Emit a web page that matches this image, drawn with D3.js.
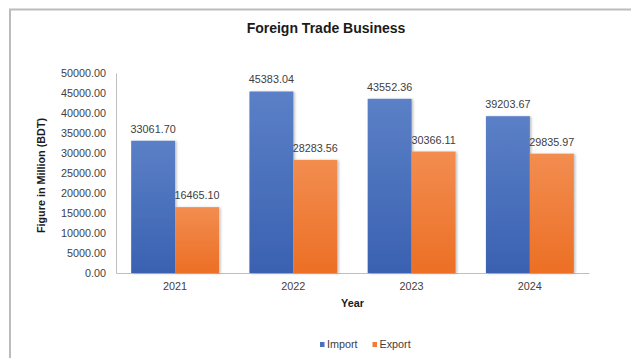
<!DOCTYPE html>
<html>
<head>
<meta charset="utf-8">
<script src="https://cdn.jsdelivr.net/npm/d3@7/dist/d3.min.js"></script>
<style>
  html, body { margin: 0; padding: 0; background: #fff; }
  svg { display: block; font-family: "Liberation Sans", Arial, sans-serif; }
</style>
</head>
<body>
<svg id="chart" width="631" height="358"></svg>
<script>
const years = ["2021", "2022", "2023", "2024"];
const seriesNames = ["Import", "Export"];
const importValues = [33061.70, 45383.04, 43552.36, 39203.67];
const exportValues = [16465.10, 28283.56, 30366.11, 29835.97];
const yTicks = [0, 5000, 10000, 15000, 20000, 25000, 30000, 35000, 40000, 45000, 50000];

const svg = d3.select("#chart");
const W = 631, H = 358;
const margin = { left: 116, right: 42, top: 73, bottom: 85 };
const plotW = W - margin.left - margin.right;
const plotH = H - margin.top - margin.bottom;

// outer frame of the chart area
svg.append("rect")
  .attr("x", 10).attr("y", 9.5)
  .attr("width", 800).attr("height", 500)
  .attr("fill", "none").attr("stroke", "#bcbcbc").attr("stroke-width", 2);

const defs = svg.append("defs");
const grads = [
  { id: "gImport", top: "#5b80c7", bottom: "#3a61b1" },
  { id: "gExport", top: "#f28d50", bottom: "#ec6f25" }
];
grads.forEach(g => {
  const lg = defs.append("linearGradient").attr("id", g.id)
    .attr("x1", 0).attr("y1", 0).attr("x2", 0).attr("y2", 1);
  lg.append("stop").attr("offset", "0%").attr("stop-color", g.top);
  lg.append("stop").attr("offset", "100%").attr("stop-color", g.bottom);
});
const shadow = defs.append("filter").attr("id", "barShadow")
  .attr("x", "-10%").attr("y", "-10%").attr("width", "130%").attr("height", "120%");
shadow.append("feDropShadow").attr("dx", 1.5).attr("dy", 0.5)
  .attr("stdDeviation", 1).attr("flood-color", "#000").attr("flood-opacity", 0.25);

const g = svg.append("g").attr("transform", `translate(${margin.left},${margin.top})`);

const x0 = d3.scaleBand().domain(years).range([0, plotW]).paddingInner(0).paddingOuter(0);
const x1 = d3.scaleBand().domain(seriesNames).range([0, x0.bandwidth()]).paddingInner(0).paddingOuter(0.345);
const y = d3.scaleLinear().domain([0, 50000]).range([plotH, 0]);

// y axis
const yAxis = d3.axisLeft(y).tickValues(yTicks).tickSize(0).tickPadding(10)
  .tickFormat(d => d3.format(".2f")(d));
const yg = g.append("g").call(yAxis);
yg.select(".domain").attr("stroke", "#bfbfbf");
yg.selectAll("text").attr("fill", "#404040").style("font-size", "10.8px");

// x axis
const xAxis = d3.axisBottom(x0).tickSize(0).tickPadding(9);
const xg = g.append("g").attr("transform", `translate(0,${plotH})`).call(xAxis);
xg.select(".domain").attr("stroke", "#bfbfbf");
xg.selectAll("text").attr("fill", "#404040").style("font-size", "10.8px");

const rows = years.map((yr, i) => ({
  year: yr,
  values: [
    { name: "Import", value: importValues[i], fill: "url(#gImport)" },
    { name: "Export", value: exportValues[i], fill: "url(#gExport)" }
  ]
}));

const groups = g.selectAll(".yr").data(rows).join("g")
  .attr("class", "yr")
  .attr("transform", d => `translate(${x0(d.year)},0)`);

groups.selectAll("rect").data(d => d.values).join("rect")
  .attr("x", d => x1(d.name))
  .attr("y", d => y(d.value))
  .attr("width", x1.bandwidth())
  .attr("height", d => plotH - y(d.value))
  .attr("fill", d => d.fill)
  .attr("filter", "url(#barShadow)");

groups.selectAll("text.lbl").data(d => d.values).join("text")
  .attr("class", "lbl")
  .attr("x", d => x1(d.name) + x1.bandwidth() / 2)
  .attr("y", d => y(d.value) - 8)
  .attr("text-anchor", "middle")
  .attr("fill", "#404040")
  .style("font-size", "10.8px")
  .text(d => d3.format(".2f")(d.value));

// titles
svg.append("text")
  .attr("x", 326).attr("y", 33)
  .attr("text-anchor", "middle")
  .attr("fill", "#1a1a1a")
  .style("font-size", "14px").style("font-weight", "bold")
  .text("Foreign Trade Business");

svg.append("text")
  .attr("transform", `translate(44.5,175.5) rotate(-90)`)
  .attr("text-anchor", "middle")
  .attr("fill", "#1a1a1a")
  .style("font-size", "10.8px").style("font-weight", "bold")
  .text("Figure in Million (BDT)");

svg.append("text")
  .attr("x", margin.left + plotW / 2).attr("y", 306.5)
  .attr("text-anchor", "middle")
  .attr("fill", "#1a1a1a")
  .style("font-size", "10.8px").style("font-weight", "bold")
  .text("Year");

// legend
const legend = svg.append("g").attr("transform", "translate(320,344)");
const legendItems = [
  { name: seriesNames[0], color: "#4a70bd", dx: 0 },
  { name: seriesNames[1], color: "#ee7c38", dx: 52.5 }
];
legendItems.forEach(it => {
  const li = legend.append("g").attr("transform", `translate(${it.dx},0)`);
  li.append("rect").attr("x", 0).attr("y", -2).attr("width", 4.5).attr("height", 5).attr("fill", it.color);
  li.append("text").attr("x", 7).attr("y", 4)
    .attr("fill", "#404040").style("font-size", "10.8px").text(it.name);
});
</script>
</body>
</html>
